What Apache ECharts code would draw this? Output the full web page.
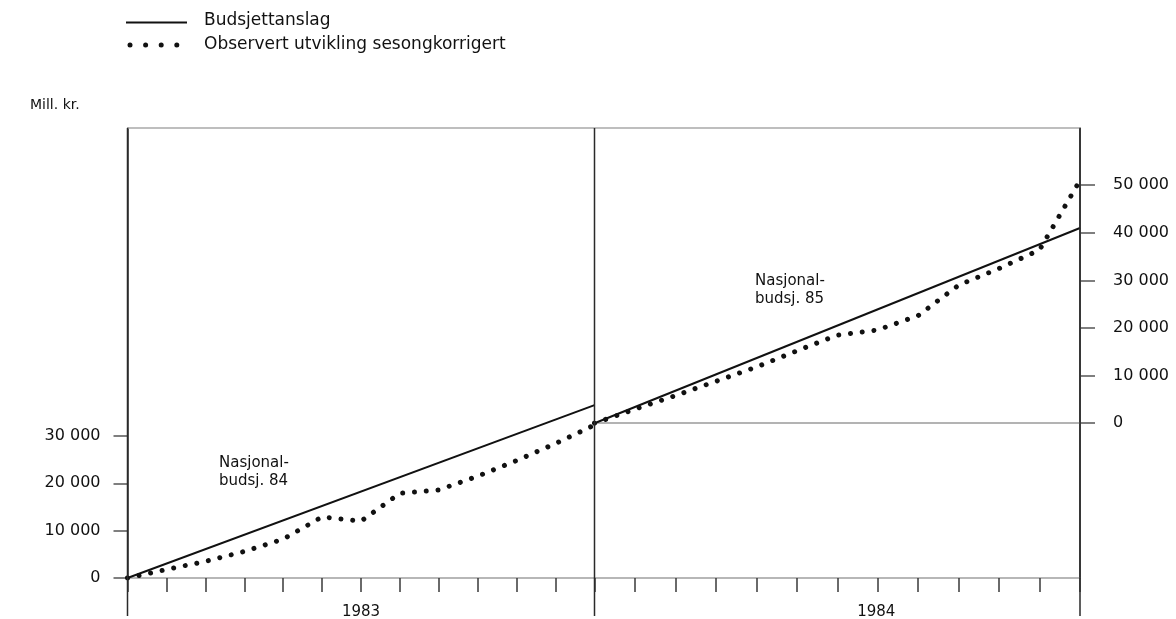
<!DOCTYPE html>
<html>
<head>
<meta charset="utf-8">
<script src="https://cdn.jsdelivr.net/npm/echarts@6/dist/echarts.min.js"></script>
<style>
  html, body { margin: 0; padding: 0; background: #ffffff; }
  #chart { width: 1176px; height: 619px; }
</style>
</head>
<body>
<div id="chart"></div>
<script>
// Month boundaries within each year: 0 = start of January, 12 = end of December
const monthIndex = [0, 1, 2, 3, 4, 5, 6, 7, 8, 9, 10, 11, 12];
const years = ['1983', '1984'];

// Budget estimates (Nasjonalbudsjett 84 / 85), mill. kr, from 0 to the year-end figure
const budget1983 = [[0, 0], [12, 36500]];
const budget1984 = [[0, 0], [12, 41000]];

// Observed development, seasonally adjusted, cumulative, mill. kr
const observed1983 = [0, 1800, 3500, 5600, 8200, 12900, 12000, 17900, 18600, 21500, 24800, 28400, 32300];
const observed1984 = [0, 2950, 5800, 8800, 11800, 15200, 18500, 19600, 22600, 29000, 32500, 36400, 51000];

// Axis tick values
const leftTicks = [0, 10000, 20000, 30000];
const rightTicks = [0, 10000, 20000, 30000, 40000, 50000];

// Panel frame (pixels)
const FRAME = { left: 127.5, mid: 594.5, right: 1080, top: 128, bottom: 578, foot: 616 };
const FONT = '"DejaVu Sans", "Liberation Sans", Arial, sans-serif';
const INK = '#111111';

const fmt = v => {
  const s = String(v);
  return s.length > 3 ? s.slice(0, -3) + ' ' + s.slice(-3) : s;
};

const pairs = vals => monthIndex.map((m, i) => [m, vals[i]]);

const chart = echarts.init(document.getElementById('chart'), null, { renderer: 'canvas' });

const xAxisBase = (gridIndex, name, shift) => ({
  type: 'value', gridIndex, min: 0, max: 12, interval: 1,
  axisLine: { show: true, onZero: false, lineStyle: { color: '#a0a0a0', width: 1.5 } },
  axisTick: { show: true, length: 14, lineStyle: { color: '#3a3a3a', width: 1.5 } },
  axisLabel: { show: false },
  splitLine: { show: false },
  name, nameLocation: 'middle', nameGap: 27,
  nameTextStyle: { fontFamily: FONT, fontSize: 15, color: INK, padding: [0, 0, 0, shift] }
});

const yLabel = margin => ({ margin, formatter: fmt, fontFamily: FONT, fontSize: 16, color: INK });

const frameLine = (x1, y1, x2, y2, color, width) => ({
  type: 'line', silent: true, z: 50,
  shape: { x1, y1, x2, y2 },
  style: { stroke: color, lineWidth: width }
});

const label = (x, y, text, size, lineHeight) => ({
  type: 'text', x, y, silent: true,
  style: {
    text, fill: INK, fontFamily: FONT, fontSize: size,
    lineHeight: lineHeight || size, verticalAlign: 'middle', align: 'left'
  }
});

const dotted = { color: INK, width: 5, type: [0.01, 11.8], cap: 'round' };

const option = {
  backgroundColor: '#ffffff',
  animation: false,
  textStyle: { fontFamily: FONT },
  grid: [
    { left: FRAME.left, top: FRAME.top, width: FRAME.mid - FRAME.left, height: FRAME.bottom - FRAME.top, outerBoundsMode: 'none' },
    { left: FRAME.mid, top: FRAME.top, width: FRAME.right - FRAME.mid, height: FRAME.bottom - FRAME.top, outerBoundsMode: 'none' }
  ],
  xAxis: [xAxisBase(0, years[0], 0), xAxisBase(1, years[1], 78)],
  yAxis: [
    {
      type: 'value', gridIndex: 0, position: 'left', min: 0, max: 95000,
      axisLine: { show: true, onZero: false, lineStyle: { color: '#2a2a2a', width: 1.5 } },
      axisTick: { show: true, customValues: leftTicks, length: 14, lineStyle: { color: '#555', width: 1.5 } },
      axisLabel: Object.assign({ customValues: leftTicks }, yLabel(27)),
      splitLine: { show: false }
    },
    {
      type: 'value', gridIndex: 1, position: 'right', min: -32500, max: 62000,
      axisLine: { show: true, onZero: false, lineStyle: { color: '#2a2a2a', width: 1.5 } },
      axisTick: { show: true, customValues: rightTicks, length: 15, lineStyle: { color: '#555', width: 1.5 } },
      axisLabel: Object.assign({ customValues: rightTicks }, yLabel(33)),
      splitLine: { show: false }
    }
  ],
  series: [
    {
      name: 'Budsjettanslag', type: 'line', xAxisIndex: 0, yAxisIndex: 0,
      data: budget1983, symbol: 'none', z: 3,
      lineStyle: { color: INK, width: 2 }
    },
    {
      name: 'Observert utvikling sesongkorrigert', type: 'line', xAxisIndex: 0, yAxisIndex: 0,
      data: pairs(observed1983), symbol: 'none', z: 4,
      lineStyle: dotted
    },
    {
      name: 'Budsjettanslag', type: 'line', xAxisIndex: 1, yAxisIndex: 1,
      data: budget1984, symbol: 'none', z: 3,
      lineStyle: { color: INK, width: 2 },
      markLine: {
        silent: true, symbol: 'none', label: { show: false }, z: 1,
        lineStyle: { color: '#9a9a9a', width: 1.5, type: 'solid' },
        data: [{ yAxis: 0 }]
      }
    },
    {
      name: 'Observert utvikling sesongkorrigert', type: 'line', xAxisIndex: 1, yAxisIndex: 1,
      data: pairs(observed1984), symbol: 'none', z: 4,
      lineStyle: dotted
    }
  ],
  graphic: [
    // frame: grey top edge, dark verticals reaching below the month ticks
    frameLine(FRAME.left, FRAME.top, FRAME.right, FRAME.top, '#a8a8a8', 1.5),
    frameLine(FRAME.left, FRAME.top, FRAME.left, FRAME.foot, '#2a2a2a', 1.5),
    frameLine(FRAME.mid, FRAME.top, FRAME.mid, FRAME.foot, '#2a2a2a', 1.5),
    frameLine(FRAME.right, FRAME.top, FRAME.right, FRAME.foot, '#2a2a2a', 1.5),
    // legend
    frameLine(126, 22.5, 187, 22.5, INK, 2),
    ...[0, 1, 2, 3].map(i => ({
      type: 'circle', silent: true,
      shape: { cx: 130 + 15.6 * i, cy: 45, r: 2.5 },
      style: { fill: INK }
    })),
    label(204, 21, 'Budsjettanslag', 17),
    label(204, 44.5, 'Observert utvikling sesongkorrigert', 17),
    // unit
    label(30, 105, 'Mill. kr.', 14),
    // budget line captions
    label(219, 472, 'Nasjonal-\nbudsj. 84', 15, 18),
    label(755, 290, 'Nasjonal-\nbudsj. 85', 15, 18)
  ]
};

chart.setOption(option);
</script>
</body>
</html>
